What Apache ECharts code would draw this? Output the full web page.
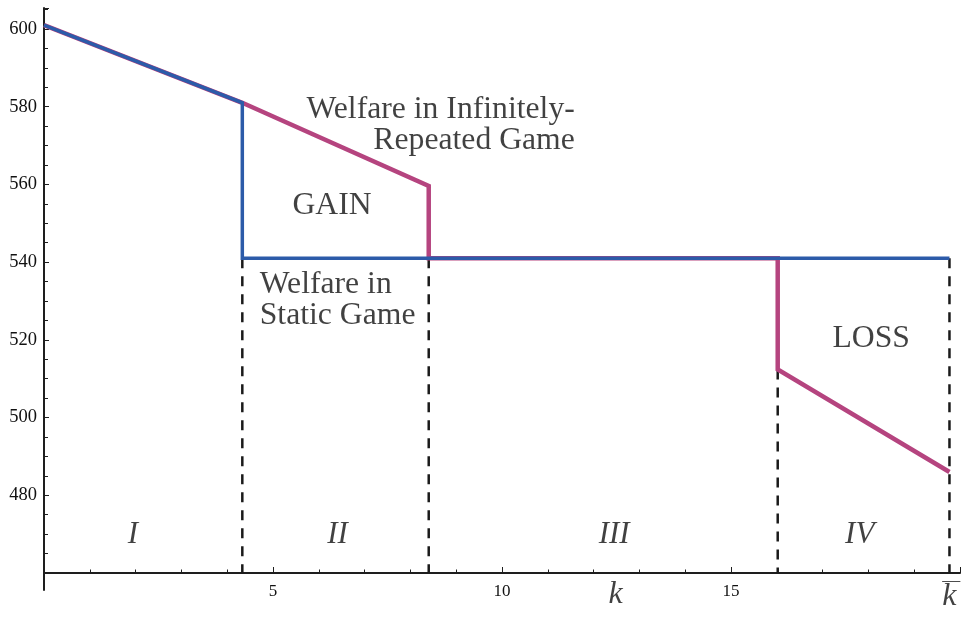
<!DOCTYPE html>
<html>
<head>
<meta charset="utf-8">
<script src="https://cdn.jsdelivr.net/npm/echarts@6/dist/echarts.min.js"></script>
<style>html,body{margin:0;padding:0;background:#fff;}#c{width:965px;height:620px;}</style>
</head>
<body>
<div id="c"></div>
<script>
// ---- data ----
const xTicks = [5, 10, 15];
const yTicks = [480, 500, 520, 540, 560, 580, 600];
const kBreaks = [4.33, 8.40, 16.02, 19.77];          // region boundaries, last one = k-bar
const repeatedWelfare = [[0, 601], [4.33, 581], [8.40, 559.6], [8.40, 541], [16.02, 541], [16.02, 512.4], [19.77, 486]];
const staticWelfare = [[0, 601], [4.33, 581], [4.33, 541], [19.77, 541]];
const dashTops = [541, 541, 512.4, 541];             // upper end of each dashed boundary
const yFloor = 460;
const regionLabels = ['I', 'II', 'III', 'IV'];
const regionLabelX = [1.94, 6.41, 12.45, 17.81];
const regionLabelY = 469.7;

const SERIF = '"Liberation Serif", "DejaVu Serif", serif';
const BLUE = '#2c5ba9';
const MAGENTA = '#b5447f';
const INK = '#1e1e1e';
const TXT = '#111';

// annotation texts (data coordinates)
const notes = [
  {t: 'Welfare in Infinitely-', x: 11.59, y: 579.2, align: 'right'},
  {t: 'Repeated Game', x: 11.59, y: 571.2, align: 'right'},
  {t: 'GAIN', x: 6.29, y: 554.6, align: 'center'},
  {t: 'Welfare in', x: 4.71, y: 534.3, align: 'left'},
  {t: 'Static Game', x: 4.71, y: 526.1, align: 'left'},
  {t: 'LOSS', x: 18.06, y: 520.2, align: 'center'}
];

const dashSeries = kBreaks.map((k, i) => ({
  type: 'line', data: [[k, dashTops[i]], [k, yFloor]], symbol: 'none', silent: true, z: 1,
  lineStyle: {color: '#1a1a1a', width: 2.5, type: [10, 8]}
}));

const chart = echarts.init(document.getElementById('c'), null, {renderer: 'canvas'});
chart.setOption({
  animation: false,
  backgroundColor: '#fff',
  grid: {left: 44, top: 8, width: 916, height: 565, containLabel: false},
  xAxis: {
    type: 'value', min: 0, max: 20, interval: 5,
    axisLine: {show: true, lineStyle: {color: INK, width: 2}},
    axisTick: {show: true, inside: true, length: 6, lineStyle: {color: INK, width: 1}},
    minorTick: {show: true, splitNumber: 5, length: 3.5, lineStyle: {color: INK, width: 1}},
    splitLine: {show: false},
    axisLabel: {
      fontFamily: SERIF, fontSize: 17, color: TXT, margin: 10,
      showMinLabel: false, showMaxLabel: false,
      formatter: v => xTicks.includes(v) ? String(v) : ''
    }
  },
  yAxis: {
    type: 'value', min: 460, max: 605.4, interval: 20,
    axisLine: {show: true, lineStyle: {color: INK, width: 2}},
    axisTick: {show: true, inside: true, length: 5, lineStyle: {color: INK, width: 1}},
    minorTick: {show: true, splitNumber: 4, length: 4, lineStyle: {color: INK, width: 1}},
    splitLine: {show: false},
    axisLabel: {
      fontFamily: SERIF, fontSize: 18.5, color: TXT, margin: 7,
      showMaxLabel: false,
      formatter: v => yTicks.includes(v) ? String(v) : ''
    }
  },
  series: [
    ...dashSeries,
    {type: 'line', data: [[0, yFloor], [0, 455.4]], symbol: 'none', silent: true, clip: false,
     lineStyle: {color: INK, width: 2}},
    {type: 'line', data: [[-0.4, yFloor], [0, yFloor]], symbol: 'none', silent: true, clip: false,
     lineStyle: {color: INK, width: 2}},
    {type: 'line', name: 'Repeated', data: repeatedWelfare, symbol: 'none', z: 3,
     lineStyle: {color: MAGENTA, width: 4.5, join: 'miter', cap: 'butt'}},
    {type: 'line', name: 'Static', data: staticWelfare, symbol: 'none', z: 4,
     lineStyle: {color: BLUE, width: 3.5, join: 'miter', cap: 'butt'}},
    {type: 'scatter', symbolSize: 0, silent: true, z: 5, clip: false,
     data: notes.map(n => ({value: [n.x, n.y], name: n.t,
       label: {show: true, position: 'inside', formatter: n.t, align: n.align, verticalAlign: 'middle',
               fontFamily: SERIF, fontSize: 31.7, color: TXT}}))},
    {type: 'scatter', symbolSize: 0, silent: true, z: 5, clip: false,
     data: regionLabels.map((r, i) => ({value: [regionLabelX[i], regionLabelY], name: r,
       label: {show: true, position: 'inside', formatter: r, align: 'center', verticalAlign: 'middle',
               fontFamily: SERIF, fontStyle: 'italic', fontSize: 31, color: TXT}}))},
    {type: 'scatter', symbolSize: 0, silent: true, z: 5, clip: false,
     data: [
       {value: [12.48, 454.5], label: {show: true, position: 'inside', formatter: 'k', align: 'center', verticalAlign: 'middle',
         fontFamily: SERIF, fontStyle: 'italic', fontSize: 32, color: TXT}},
       {value: [kBreaks[3], 454.0], label: {show: true, position: 'inside', formatter: 'k', align: 'center', verticalAlign: 'middle',
         fontFamily: SERIF, fontStyle: 'italic', fontSize: 32, color: TXT}},
       {value: [kBreaks[3] + 0.04, 457.8], label: {show: true, position: 'inside', formatter: '\u2014', align: 'center', verticalAlign: 'middle',
         fontFamily: SERIF, fontSize: 18, color: TXT}}
     ]}
  ]
});
</script>
</body>
</html>
